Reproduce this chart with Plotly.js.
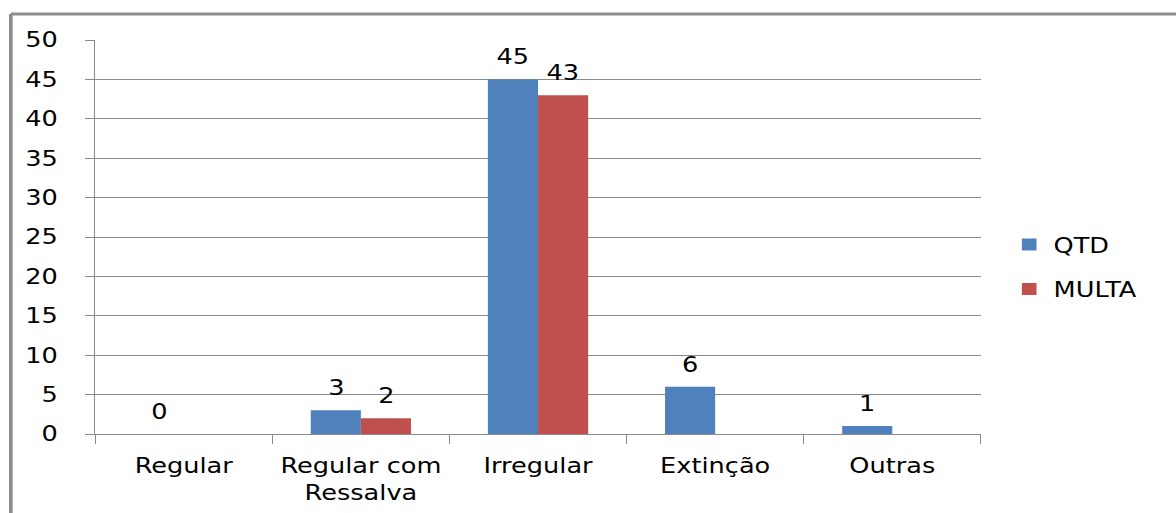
<!DOCTYPE html>
<html>
<head>
<meta charset="utf-8">
<script src="https://cdn.plot.ly/plotly-3.0.1.min.js"></script>
<style>
html,body{margin:0;padding:0;background:#fff;overflow:hidden;width:1176px;height:513px;}
#wrap{position:absolute;left:0;top:0;width:964px;height:513px;transform:scaleX(1.22);transform-origin:0 0;}
#chart{width:964px;height:513px;}
</style>
</head>
<body>
<div id="wrap"><div id="chart"></div></div>
<script>
const categories = ["Regular", "Regular com<br>Ressalva", "Irregular", "Extinção", "Outras"];
const qtd = [0, 3, 45, 6, 1];
const multa = [null, 2, 43, null, null];
const yTicks = [0, 5, 10, 15, 20, 25, 30, 35, 40, 45, 50];

const FONT = "DejaVu Sans, Verdana, sans-serif";
const gridCol = "#8a8a8a";

const traces = [
  {type: "bar", name: "QTD", legendgroup: "a", x: categories, y: qtd, marker: {color: "#4F81BD"}, hoverinfo: "none"},
  {type: "bar", name: "MULTA", legendgroup: "b", x: categories, y: multa, marker: {color: "#C0504D"}, hoverinfo: "none"}
];

const annotations = [];
const shift = 20.5;
[[qtd, -shift], [multa, shift]].forEach(([arr, dx]) => {
  arr.forEach((v, i) => {
    if (v === null) return;
    annotations.push({x: categories[i], y: v, xref: "x", yref: "y", text: String(v), showarrow: false,
      xshift: dx, yshift: 22, yanchor: "middle", font: {family: FONT, size: 21, color: "#000"}});
  });
});

const layout = {
  width: 964, height: 513,
  margin: {l: 78, r: 160, t: 40, b: 79},
  paper_bgcolor: "#fff", plot_bgcolor: "#fff",
  barmode: "group", bargap: 0.434, bargroupgap: 0,
  font: {family: FONT, size: 21, color: "#000"},
  xaxis: {type: "category", showgrid: false, showline: true, linecolor: gridCol, linewidth: 1,
    ticks: "outside", tickson: "boundaries", ticklen: 9, tickcolor: gridCol, ticklabelstandoff: 13,
    tickfont: {family: FONT, size: 21, color: "#000"}, fixedrange: true},
  yaxis: {range: [0, 50], tickvals: yTicks, showgrid: true, gridcolor: gridCol, gridwidth: 1,
    showline: true, linecolor: gridCol, linewidth: 1, ticks: "outside", ticklen: 7.4, tickcolor: gridCol,
    zeroline: false, ticklabelstandoff: 18, tickfont: {family: FONT, size: 21, color: "#000"}, fixedrange: true},
  legend: {x: 1.027, y: 0.424, xanchor: "left", yanchor: "middle", font: {family: FONT, size: 21, color: "#000"},
    traceorder: "grouped", tracegroupgap: 14, itemwidth: 30, bgcolor: "rgba(0,0,0,0)"},
  annotations: annotations,
  shapes: [
    {type: "line", xref: "paper", yref: "paper", x0: -0.0952, x1: -0.0952, y0: 1.066, y1: -0.25, line: {color: "#8c8c8c", width: 3}},
    {type: "line", xref: "paper", yref: "paper", x0: -0.0952, x1: 1.25, y0: 1.066, y1: 1.066, line: {color: "#8c8c8c", width: 3}}
  ],
  showlegend: true
};

Plotly.newPlot("chart", traces, layout, {displayModeBar: false, staticPlot: true});
</script>
</body>
</html>
